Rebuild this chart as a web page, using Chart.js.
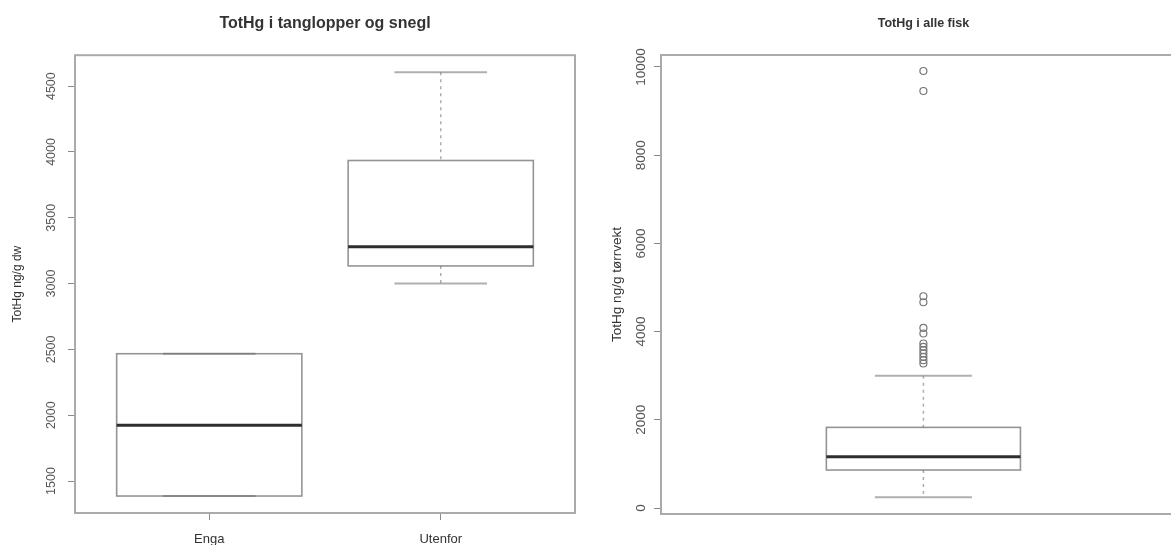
<!DOCTYPE html>
<html lang="no">
<head>
<meta charset="UTF-8">
<title>TotHg</title>
<script src="https://cdn.jsdelivr.net/npm/chart.js"></script>
<style>
  body { margin: 0; background: #fff; overflow: hidden; width: 1171px; height: 545px; position: relative; }
  #leftChart { position: absolute; left: 0; top: 0; }
  #rightChart { position: absolute; left: 590px; top: 0; }
</style>
</head>
<body>
<canvas id="leftChart" width="590" height="545"></canvas>
<canvas id="rightChart" width="601" height="545"></canvas>
<script>
// Venstre figur: tanglopper og snegl
const leftCategories = ['Enga', 'Utenfor'];
const leftLow = [1386, 3000];
const leftQ1 = [1386, 3134];
const leftMedian = [1924, 3280];
const leftQ3 = [2467, 3935];
const leftHigh = [2467, 4606];
const leftYTicks = [1500, 2000, 2500, 3000, 3500, 4000, 4500];

// Høyre figur: alle fisk
const rightLow = [242];
const rightQ1 = [861];
const rightMedian = [1162];
const rightQ3 = [1828];
const rightHigh = [2997];
const rightOutliers = [9909, 9456, 4802, 4666, 4084, 3957, 3730, 3654, 3579, 3504, 3427, 3352, 3277];
const rightYTicks = [0, 2000, 4000, 6000, 8000, 10000];

const FONT = "'Liberation Sans', Arial, sans-serif";

// tegner ramme + boksplott via skalaene (R-stil)
const boxPlugin = {
  id: 'boxes',
  afterDatasetsDraw(chart, args, opts) {
    const { ctx, chartArea: a, scales: { x, y } } = chart;
    const line = (x1, y1, x2, y2) => { ctx.beginPath(); ctx.moveTo(x1, y1); ctx.lineTo(x2, y2); ctx.stroke(); };
    ctx.save();
    ctx.strokeStyle = '#aaaaaa';
    ctx.lineWidth = 2;
    ctx.strokeRect(a.left, a.top, a.right - a.left, a.bottom - a.top);

    opts.median.forEach((m, i) => {
      const cx = x.getPixelForValue(i + 1);
      const bw = x.getPixelForValue(i + 1 + 0.4) - cx;
      const sw = bw / 2;
      const yLow = y.getPixelForValue(opts.low[i]);
      const yQ1 = y.getPixelForValue(opts.q1[i]);
      const yMed = y.getPixelForValue(m);
      const yQ3 = y.getPixelForValue(opts.q3[i]);
      const yHigh = y.getPixelForValue(opts.high[i]);

      // whiskers
      ctx.setLineDash([3, 4]);
      ctx.strokeStyle = 'rgba(120,120,120,0.6)';
      ctx.lineWidth = 1.5;
      if (yLow - yQ1 > 1) line(cx, yQ1, cx, yLow);
      if (yQ3 - yHigh > 1) line(cx, yHigh, cx, yQ3);
      ctx.setLineDash([]);

      // boks
      ctx.strokeStyle = 'rgba(90,90,90,0.65)';
      ctx.lineWidth = 1.6;
      ctx.strokeRect(cx - bw, yQ3, bw * 2, yQ1 - yQ3);

      // endestreker
      ctx.strokeStyle = 'rgba(110,110,110,0.55)';
      ctx.lineWidth = 2;
      line(cx - sw, yLow, cx + sw, yLow);
      line(cx - sw, yHigh, cx + sw, yHigh);

      // median
      ctx.strokeStyle = '#2e2e2e';
      ctx.lineWidth = 3;
      line(cx - bw, yMed, cx + bw, yMed);
    });
    ctx.restore();
  }
};

function yAxis(min, max, tickList, width, fontSize, pad, title, titleSize, titlePad) {
  return {
    type: 'linear', min: min, max: max, bounds: 'data',
    afterBuildTicks: s => { s.ticks = tickList.map(v => ({ value: v })); },
    afterFit: s => { s.width = width; },
    ticks: {
      minRotation: 90, maxRotation: 90, crossAlign: 'center', padding: pad,
      color: '#555', font: { family: FONT, size: fontSize },
      callback: v => String(v)
    },
    grid: { drawOnChartArea: false, tickLength: 7, color: '#8a8a8a' },
    border: { display: false },
    title: {
      display: true, text: title, color: '#333',
      font: { family: FONT, size: titleSize }, padding: { top: titlePad, bottom: 0 }
    }
  };
}

new Chart(document.getElementById('leftChart'), {
  type: 'scatter',
  data: { datasets: [] },
  plugins: [boxPlugin],
  options: {
    responsive: false,
    animation: false,
    layout: { padding: { left: 0, right: 15, top: 0, bottom: 0 } },
    plugins: {
      legend: { display: false },
      tooltip: { enabled: false },
      title: {
        display: true, text: 'TotHg i tanglopper og snegl', fullSize: false, color: '#333',
        font: { family: FONT, size: 16, weight: 'bold' }, padding: { top: 14, bottom: 22 }
      },
      boxes: { low: leftLow, q1: leftQ1, median: leftMedian, q3: leftQ3, high: leftHigh }
    },
    scales: {
      x: {
        type: 'linear', min: 0.42, max: 2.58, bounds: 'data',
        afterBuildTicks: s => { s.ticks = leftCategories.map((c, i) => ({ value: i + 1 })); },
        afterFit: s => { s.height = 32; },
        ticks: {
          callback: v => leftCategories[v - 1], color: '#333',
          font: { family: FONT, size: 13 }, padding: 12, maxRotation: 0, autoSkip: false
        },
        grid: { drawOnChartArea: false, tickLength: 7, color: '#8a8a8a' },
        border: { display: false }
      },
      y: yAxis(1257, 4735, leftYTicks, 75, 12.5, 3, 'TotHg ng/g dw', 12, 10.8)
    }
  }
});

new Chart(document.getElementById('rightChart'), {
  type: 'scatter',
  data: {
    datasets: [{
      label: 'Uteliggere',
      data: rightOutliers.map(v => ({ x: 1, y: v })),
      pointStyle: 'circle',
      pointRadius: 3.5,
      pointBorderWidth: 1.2,
      pointBorderColor: '#777',
      pointBackgroundColor: 'rgba(0,0,0,0)'
    }]
  },
  plugins: [boxPlugin],
  options: {
    responsive: false,
    animation: false,
    layout: { padding: 0 },
    plugins: {
      legend: { display: false },
      tooltip: { enabled: false },
      title: {
        display: true, text: 'TotHg i alle fisk', fullSize: false, color: '#333',
        font: { family: FONT, size: 12.5, weight: 'bold' }, padding: { top: 16, bottom: 24 }
      },
      boxes: { low: rightLow, q1: rightQ1, median: rightMedian, q3: rightQ3, high: rightHigh }
    },
    scales: {
      x: {
        type: 'linear', min: -0.0816, max: 2.0816, bounds: 'data',
        afterFit: s => { s.height = 31; },
        ticks: { display: false },
        grid: { display: false },
        border: { display: false }
      },
      y: yAxis(-136, 10272, rightYTicks, 71, 13.5, -6, 'TotHg ng/g tørrvekt', 13.5, 18.9)
    }
  }
});
</script>
</body>
</html>
